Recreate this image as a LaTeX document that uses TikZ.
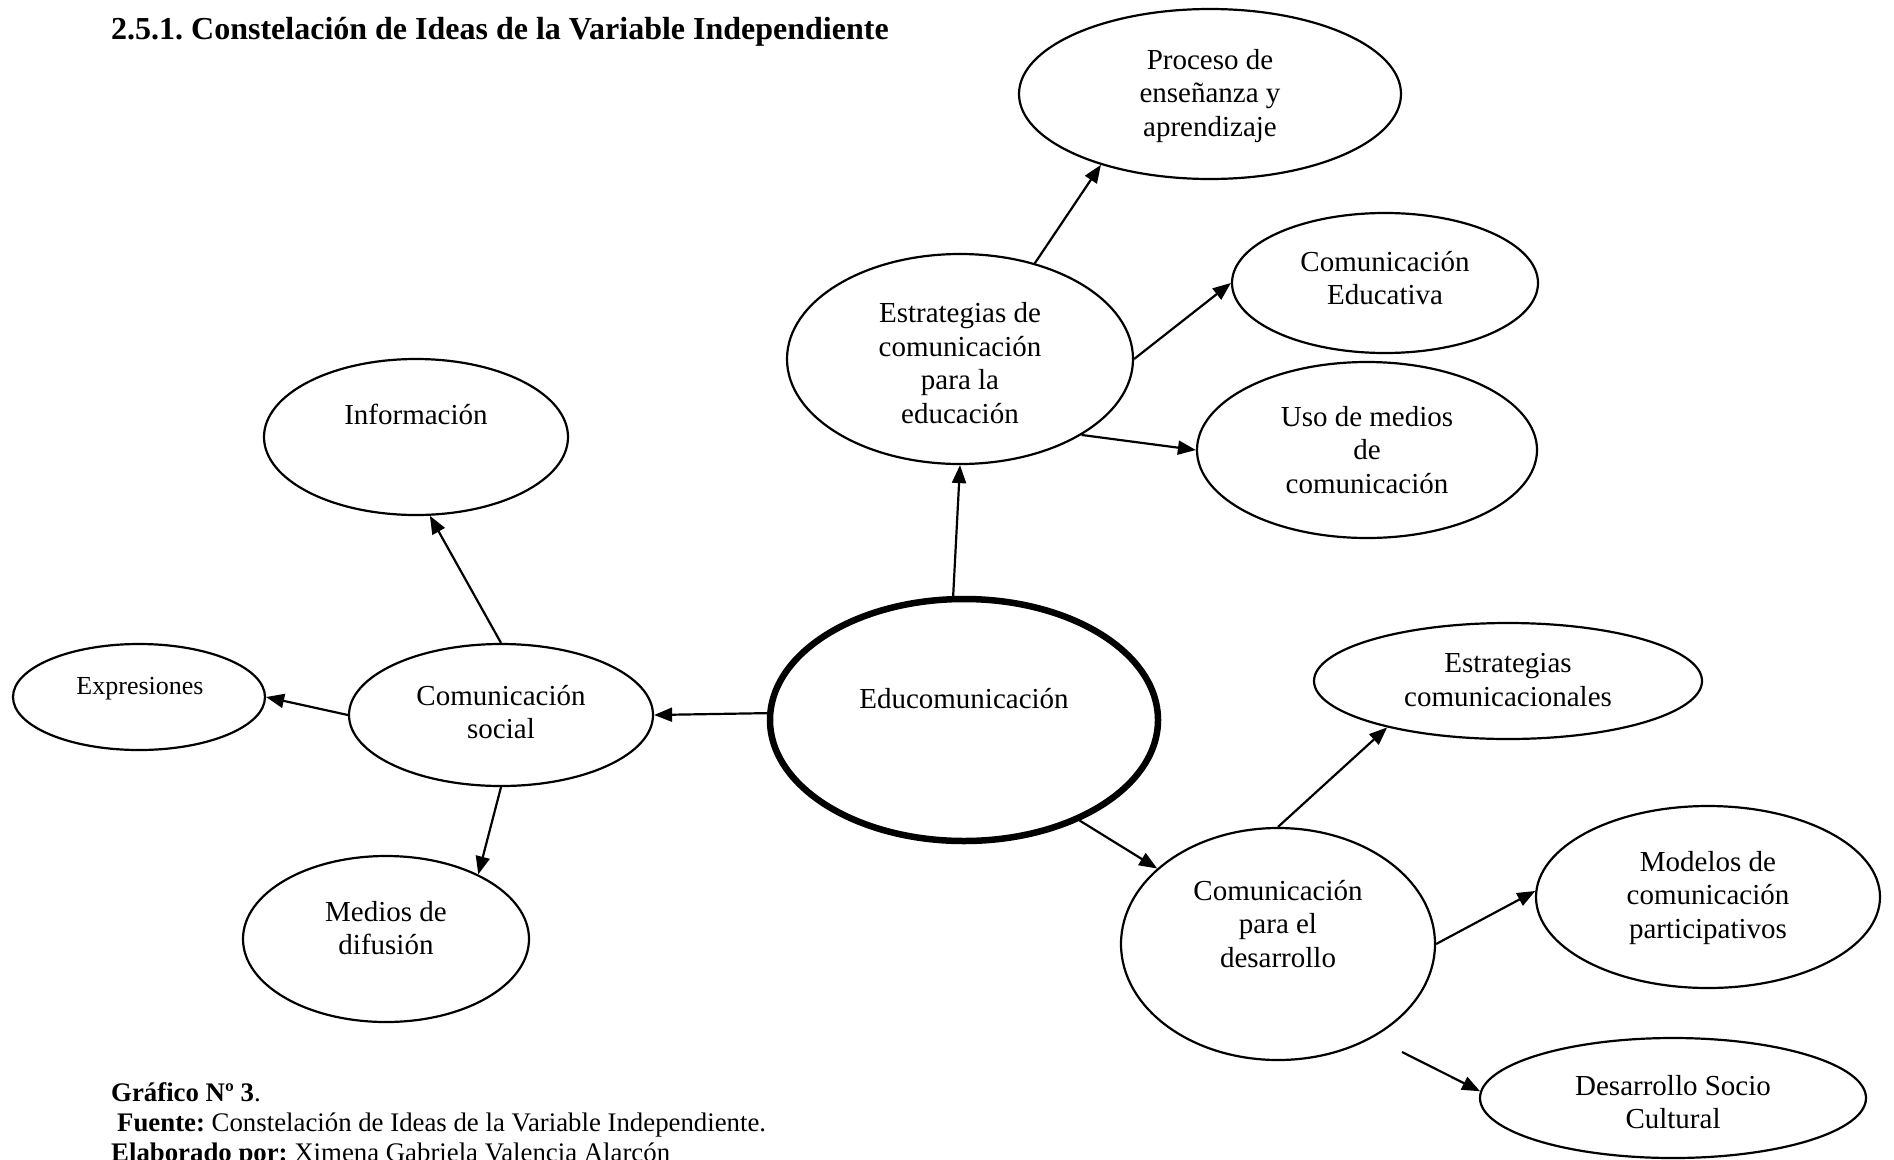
\documentclass[tikz,border=0pt]{standalone}
\usepackage{fontspec}
\setmainfont{Liberation Serif}
\usetikzlibrary{shapes.geometric,arrows.meta}
\frenchspacing

\tikzset{
  idea/.style={draw, ellipse, line width=2.2pt, inner sep=0pt},
  txt/.style={align=center, font=\fontsize{29}{33.5}\selectfont},
  arr/.style={-{Triangle[length=18pt,width=14pt]}, line width=2.2pt},
  capt/.style={anchor=base west, inner sep=0pt, font=\fontsize{26.8}{30}\selectfont},
}

\begin{document}
\begin{tikzpicture}[x=1pt,y=-1pt]
  \useasboundingbox (0,0) rectangle (1894,1159);

  \node (title) [anchor=base west, inner sep=0pt, font=\bfseries\fontsize{32}{36}\selectfont] at (111,39) {2.5.1. Constelación de Ideas de la Variable Independiente};

  %% ellipses
  \node (educ) [idea, line width=6.5pt, minimum width=388, minimum height=242] at (964,720) {};
  \node (estr) [idea, minimum width=346, minimum height=210] at (960,359) {};
  \node (proc) [idea, minimum width=382, minimum height=170] at (1210,94) {};
  \node (ceduc) [idea, minimum width=306, minimum height=140] at (1385,283) {};
  \node (uso) [idea, minimum width=340, minimum height=176] at (1367,450) {};
  \node (csoc) [idea, minimum width=304, minimum height=142] at (501,715) {};
  \node (info) [idea, minimum width=304, minimum height=156] at (416,437) {};
  \node (expr) [idea, minimum width=252, minimum height=106] at (139,697) {};
  \node (medios) [idea, minimum width=286, minimum height=166] at (386,939) {};
  \node (cdes) [idea, minimum width=314, minimum height=232] at (1278,944) {};
  \node (estrcom) [idea, minimum width=388, minimum height=116] at (1508,681) {};
  \node (model) [idea, minimum width=344, minimum height=182] at (1708,897) {};
  \node (socio) [idea, minimum width=386, minimum height=120] at (1673,1098) {};

  %% texts
  \node (educ-t) [txt] at (964,699) {Educomunicación};
  \node (estr-t) [txt] at (960,363) {Estrategias de\\comunicación\\para la\\educación};
  \node (proc-t) [txt] at (1210,96) {Proceso de\\enseñanza y\\aprendizaje};
  \node (ceduc-t) [txt] at (1385,278) {Comunicación\\Educativa};
  \node (uso-t) [txt] at (1367,450) {Uso de medios\\de\\comunicación};
  \node (csoc-t) [txt] at (501,712) {Comunicación\\social};
  \node (info-t) [txt] at (416,414) {Información};
  \node (expr-t) [txt, font=\fontsize{26}{30}\selectfont] at (140,689) {Expresiones};
  \node (medios-t) [txt] at (386,928) {Medios de\\difusión};
  \node (cdes-t) [txt] at (1278,924) {Comunicación\\para el\\desarrollo};
  \node (estrcom-t) [txt] at (1508,680) {Estrategias\\comunicacionales};
  \node (model-t) [txt] at (1708,898) {Modelos de\\comunicación\\participativos};
  \node (socio-t) [txt] at (1673,1102) {Desarrollo Socio\\Cultural};

  %% connectors
  \draw[arr] (educ.95) -- (estr.270);
  \draw[arr] (educ.178) -- (csoc.0);
  \draw[arr] (educ.319) -- (cdes.148);
  \draw[arr] (estr.52) -- (proc.213);
  \draw[arr] (estr.0) -- (ceduc.180);
  \draw[arr] (estr.328) -- (uso.180);
  \draw[arr] (csoc.90) -- (info.280);
  \draw[arr] (csoc.180) -- (expr.0);
  \draw[arr] (csoc.270) -- (medios.35);
  \draw[arr] (cdes.90) -- (estrcom.201);
  \draw[arr] (cdes.0) -- (model.178);
  \coordinate (cdes-out) at (1402,1052);
  \draw[arr] (cdes-out) -- (socio.178);

  %% caption
  \node (graf) [capt] at (111,1101) {\textbf{Gráfico Nº 3}.};
  \node (fuente) [capt] at (117,1131) {\textbf{Fuente:} Constelación de Ideas de la Variable Independiente.};
  \node (elab) [capt] at (111,1161) {\textbf{Elaborado por:} Ximena Gabriela Valencia Alarcón};
\end{tikzpicture}
\end{document}
